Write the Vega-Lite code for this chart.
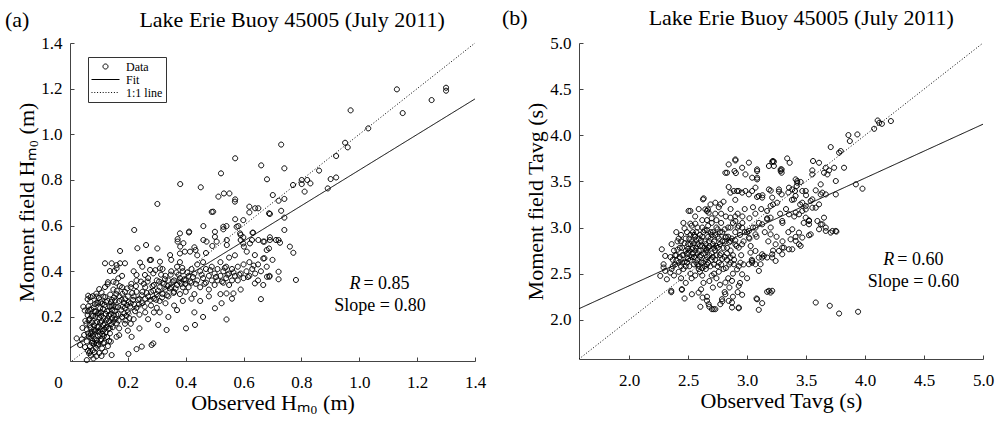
{
"$schema": "https://vega.github.io/schema/vega-lite/v6.json",
"background": "white",
"padding": {"left": 5, "top": 7, "right": 2, "bottom": 2},
"spacing": 16,
"datasets": {
"a": [
{"x":0.062,"y":0.052},{"x":0.058,"y":0.093},{"x":0.063,"y":0.128},{"x":0.057,"y":0.171},{"x":0.061,"y":0.208},{"x":0.064,"y":0.247},
{"x":0.072,"y":0.031},{"x":0.069,"y":0.072},{"x":0.074,"y":0.108},{"x":0.071,"y":0.152},{"x":0.068,"y":0.192},{"x":0.073,"y":0.233},{"x":0.070,"y":0.268},
{"x":0.081,"y":0.018},{"x":0.079,"y":0.054},{"x":0.083,"y":0.083},{"x":0.078,"y":0.118},{"x":0.084,"y":0.163},{"x":0.080,"y":0.204},{"x":0.082,"y":0.241},{"x":0.079,"y":0.291},
{"x":0.091,"y":0.028},{"x":0.089,"y":0.064},{"x":0.093,"y":0.098},{"x":0.088,"y":0.141},{"x":0.094,"y":0.178},{"x":0.090,"y":0.224},{"x":0.092,"y":0.262},
{"x":0.101,"y":0.042},{"x":0.098,"y":0.081},{"x":0.103,"y":0.122},{"x":0.099,"y":0.158},{"x":0.102,"y":0.197},{"x":0.104,"y":0.238},{"x":0.100,"y":0.283},
{"x":0.111,"y":0.062},{"x":0.108,"y":0.103},{"x":0.113,"y":0.138},{"x":0.110,"y":0.182},{"x":0.107,"y":0.221},{"x":0.112,"y":0.258},{"x":0.109,"y":0.307},
{"x":0.121,"y":0.048},{"x":0.118,"y":0.088},{"x":0.123,"y":0.132},{"x":0.120,"y":0.171},{"x":0.124,"y":0.213},{"x":0.119,"y":0.252},{"x":0.122,"y":0.287},
{"x":0.131,"y":0.072},{"x":0.128,"y":0.112},{"x":0.133,"y":0.148},{"x":0.130,"y":0.193},{"x":0.134,"y":0.228},{"x":0.129,"y":0.271},
{"x":0.141,"y":0.092},{"x":0.138,"y":0.128},{"x":0.143,"y":0.168},{"x":0.140,"y":0.212},{"x":0.144,"y":0.248},{"x":0.139,"y":0.298},
{"x":0.052,"y":0.068},{"x":0.049,"y":0.121},{"x":0.053,"y":0.183},{"x":0.051,"y":0.228},{"x":0.043,"y":0.152},{"x":0.041,"y":0.102},
{"x":0.066,"y":0.041},{"x":0.086,"y":0.136},{"x":0.096,"y":0.117},{"x":0.106,"y":0.147},{"x":0.076,"y":0.176},{"x":0.116,"y":0.196},{"x":0.126,"y":0.156},{"x":0.096,"y":0.216},{"x":0.086,"y":0.256},{"x":0.106,"y":0.096},{"x":0.076,"y":0.086},{"x":0.136,"y":0.181},{"x":0.146,"y":0.231},{"x":0.156,"y":0.272},{"x":0.166,"y":0.243},{"x":0.151,"y":0.208},{"x":0.161,"y":0.172},
{"x":0.071,"y":0.287},{"x":0.091,"y":0.302},{"x":0.121,"y":0.331},{"x":0.101,"y":0.322},{"x":0.131,"y":0.352},{"x":0.061,"y":0.278},{"x":0.067,"y":0.232},{"x":0.088,"y":0.202},{"x":0.114,"y":0.235},{"x":0.097,"y":0.262},
{"x":0.065,"y":0.115},{"x":0.075,"y":0.135},{"x":0.085,"y":0.105},{"x":0.095,"y":0.155},{"x":0.105,"y":0.175},{"x":0.115,"y":0.165},{"x":0.125,"y":0.185},{"x":0.135,"y":0.205},{"x":0.145,"y":0.195},{"x":0.155,"y":0.225},{"x":0.085,"y":0.225},{"x":0.075,"y":0.205},{"x":0.065,"y":0.185},{"x":0.105,"y":0.265},{"x":0.125,"y":0.265},{"x":0.145,"y":0.275},{"x":0.095,"y":0.075},{"x":0.115,"y":0.085},{"x":0.135,"y":0.095},{"x":0.085,"y":0.045},{"x":0.117,"y":0.117},{"x":0.137,"y":0.151},{"x":0.157,"y":0.189},{"x":0.167,"y":0.212},{"x":0.177,"y":0.232},{"x":0.187,"y":0.262},{"x":0.197,"y":0.252},{"x":0.171,"y":0.291},{"x":0.181,"y":0.301},{"x":0.191,"y":0.278},
{"x":0.058,"y":0.145},{"x":0.068,"y":0.165},{"x":0.078,"y":0.095},{"x":0.088,"y":0.175},{"x":0.098,"y":0.135},{"x":0.108,"y":0.205},{"x":0.118,"y":0.145},{"x":0.128,"y":0.225},{"x":0.138,"y":0.245},{"x":0.148,"y":0.155},{"x":0.158,"y":0.245},{"x":0.168,"y":0.185},{"x":0.178,"y":0.275},{"x":0.188,"y":0.215},{"x":0.198,"y":0.325},{"x":0.208,"y":0.245},{"x":0.218,"y":0.275},{"x":0.228,"y":0.335},{"x":0.238,"y":0.255},{"x":0.248,"y":0.295},{"x":0.258,"y":0.245},{"x":0.268,"y":0.355},{"x":0.278,"y":0.275},{"x":0.288,"y":0.315},{"x":0.298,"y":0.275},{"x":0.308,"y":0.355},{"x":0.318,"y":0.285},{"x":0.328,"y":0.365},{"x":0.338,"y":0.335},{"x":0.348,"y":0.385},{"x":0.358,"y":0.305},{"x":0.368,"y":0.395},{"x":0.378,"y":0.355},{"x":0.388,"y":0.415},{"x":0.398,"y":0.345},{"x":0.072,"y":0.125},{"x":0.082,"y":0.145},{"x":0.092,"y":0.085},{"x":0.102,"y":0.215},{"x":0.112,"y":0.125},{"x":0.062,"y":0.225},{"x":0.142,"y":0.265},{"x":0.152,"y":0.285},{"x":0.162,"y":0.315},{"x":0.172,"y":0.335},{"x":0.182,"y":0.245},{"x":0.192,"y":0.185},{"x":0.202,"y":0.265},{"x":0.212,"y":0.345},{"x":0.222,"y":0.255},
{"x":0.063,"y":0.293},{"x":0.092,"y":0.289},{"x":0.115,"y":0.289},{"x":0.046,"y":0.245},{"x":0.167,"y":0.369},{"x":0.150,"y":0.354},{"x":0.130,"y":0.343},
{"x":0.121,"y":0.435},{"x":0.144,"y":0.435},{"x":0.161,"y":0.427},{"x":0.173,"y":0.435},{"x":0.19,"y":0.435},{"x":0.138,"y":0.401},{"x":0.153,"y":0.401},{"x":0.161,"y":0.413},
{"x":0.242,"y":0.438},{"x":0.276,"y":0.449},{"x":0.311,"y":0.442},{"x":0.230,"y":0.384},{"x":0.259,"y":0.384},{"x":0.288,"y":0.391},{"x":0.346,"y":0.471},{"x":0.380,"y":0.478},{"x":0.397,"y":0.486},{"x":0.415,"y":0.486},{"x":0.380,"y":0.566},{"x":0.411,"y":0.570},
{"x":0.461,"y":0.598},{"x":0.495,"y":0.661},{"x":0.530,"y":0.595},{"x":0.541,"y":0.598},{"x":0.501,"y":0.573},{"x":0.501,"y":0.551},{"x":0.507,"y":0.530},
{"x":0.570,"y":0.705},{"x":0.620,"y":0.683},{"x":0.620,"y":0.658},{"x":0.651,"y":0.676},{"x":0.688,"y":0.654},{"x":0.599,"y":0.624},{"x":0.576,"y":0.595},{"x":0.588,"y":0.566},{"x":0.631,"y":0.569},{"x":0.599,"y":0.522},{"x":0.622,"y":0.522},
{"x":0.668,"y":0.530},{"x":0.691,"y":0.537},{"x":0.639,"y":0.471},{"x":0.668,"y":0.456},{"x":0.688,"y":0.500},{"x":0.689,"y":0.376},{"x":0.668,"y":0.340},{"x":0.639,"y":0.347},{"x":0.660,"y":0.278},
{"x":0.541,"y":0.303},{"x":0.565,"y":0.303},{"x":0.501,"y":0.238},{"x":0.524,"y":0.260},{"x":0.541,"y":0.189},
{"x":0.432,"y":0.165},{"x":0.401,"y":0.150},{"x":0.305,"y":0.165},{"x":0.334,"y":0.143},{"x":0.282,"y":0.077},{"x":0.288,"y":0.084},{"x":0.248,"y":0.070},{"x":0.230,"y":0.059},{"x":0.202,"y":0.038},{"x":0.213,"y":0.113},{"x":0.161,"y":0.113},{"x":0.144,"y":0.033},{"x":0.109,"y":0.029},{"x":0.069,"y":0.048},{"x":0.058,"y":0.011},{"x":0.035,"y":0.077},{"x":0.023,"y":0.106},
{"x":0.173,"y":0.489},{"x":0.263,"y":0.515},{"x":0.302,"y":0.500},{"x":0.222,"y":0.581},{"x":0.302,"y":0.695},
{"x":1.13,"y":1.197},{"x":1.30,"y":1.204},{"x":1.30,"y":1.191},{"x":1.25,"y":1.15},{"x":1.15,"y":1.093},{"x":0.97,"y":1.105},{"x":1.031,"y":1.026},{"x":0.951,"y":0.963},{"x":0.960,"y":0.943},{"x":0.920,"y":0.905},{"x":0.730,"y":0.955},{"x":0.661,"y":0.864},{"x":0.741,"y":0.851},{"x":0.681,"y":0.803},{"x":0.861,"y":0.841},{"x":0.771,"y":0.778},{"x":0.801,"y":0.800},{"x":0.801,"y":0.782},{"x":0.820,"y":0.800},{"x":0.831,"y":0.785},{"x":0.811,"y":0.749},{"x":0.901,"y":0.804},{"x":0.920,"y":0.811},{"x":0.891,"y":0.763},{"x":0.701,"y":0.734},{"x":0.721,"y":0.709},{"x":0.741,"y":0.717},{"x":0.730,"y":0.665},{"x":0.691,"y":0.651},{"x":0.741,"y":0.635},{"x":0.741,"y":0.581},{"x":0.640,"y":0.676},
{"x":0.571,"y":0.895},{"x":0.522,"y":0.829},{"x":0.381,"y":0.782},{"x":0.452,"y":0.768},{"x":0.513,"y":0.727},{"x":0.532,"y":0.741},{"x":0.551,"y":0.741},{"x":0.571,"y":0.715},{"x":0.490,"y":0.660},{"x":0.571,"y":0.628},{"x":0.530,"y":0.584},{"x":0.582,"y":0.598},{"x":0.590,"y":0.559},{"x":0.599,"y":0.549},{"x":0.590,"y":0.537},{"x":0.633,"y":0.569},
{"x":0.233,"y":0.501},{"x":0.372,"y":0.541},{"x":0.372,"y":0.530},{"x":0.392,"y":0.523},{"x":0.381,"y":0.508},{"x":0.412,"y":0.574},{"x":0.430,"y":0.505},{"x":0.434,"y":0.493},{"x":0.461,"y":0.537},{"x":0.472,"y":0.530},{"x":0.492,"y":0.511},{"x":0.542,"y":0.537},{"x":0.542,"y":0.515},{"x":0.629,"y":0.537},{"x":0.651,"y":0.537},{"x":0.672,"y":0.530},{"x":0.691,"y":0.549},{"x":0.712,"y":0.537},{"x":0.721,"y":0.537},{"x":0.726,"y":0.525},{"x":0.760,"y":0.508},{"x":0.772,"y":0.481},{"x":0.781,"y":0.362},{"x":0.721,"y":0.398},{"x":0.721,"y":0.365},{"x":0.681,"y":0.376},{"x":0.672,"y":0.457},{"x":0.680,"y":0.493},{"x":0.611,"y":0.486},{"x":0.601,"y":0.508},{"x":0.277,"y":0.406},{"x":0.311,"y":0.413},
{"x":0.15,"y":0.18},{"x":0.15,"y":0.25},{"x":0.16,"y":0.21},{"x":0.16,"y":0.30},{"x":0.17,"y":0.15},{"x":0.17,"y":0.27},{"x":0.18,"y":0.20},{"x":0.18,"y":0.33},{"x":0.19,"y":0.24},{"x":0.19,"y":0.17},{"x":0.20,"y":0.29},{"x":0.20,"y":0.22},{"x":0.16,"y":0.35},{"x":0.18,"y":0.38},{"x":0.15,"y":0.32},{"x":0.19,"y":0.31},{"x":0.17,"y":0.12},{"x":0.20,"y":0.14},
{"x":0.21,"y":0.26},{"x":0.21,"y":0.33},{"x":0.22,"y":0.19},{"x":0.22,"y":0.29},{"x":0.23,"y":0.24},{"x":0.23,"y":0.36},{"x":0.24,"y":0.28},{"x":0.24,"y":0.21},{"x":0.25,"y":0.31},{"x":0.25,"y":0.26},{"x":0.26,"y":0.33},{"x":0.26,"y":0.22},{"x":0.27,"y":0.29},{"x":0.27,"y":0.37},{"x":0.28,"y":0.25},{"x":0.28,"y":0.31},{"x":0.29,"y":0.34},{"x":0.29,"y":0.28},{"x":0.30,"y":0.30},{"x":0.30,"y":0.24},{"x":0.22,"y":0.40},{"x":0.25,"y":0.42},{"x":0.28,"y":0.45},{"x":0.21,"y":0.17},{"x":0.24,"y":0.15},{"x":0.27,"y":0.19},{"x":0.23,"y":0.31},{"x":0.26,"y":0.28},{"x":0.29,"y":0.22},{"x":0.30,"y":0.36},
{"x":0.31,"y":0.33},{"x":0.31,"y":0.27},{"x":0.32,"y":0.35},{"x":0.32,"y":0.30},{"x":0.33,"y":0.38},{"x":0.33,"y":0.32},{"x":0.34,"y":0.29},{"x":0.34,"y":0.36},{"x":0.35,"y":0.33},{"x":0.35,"y":0.40},{"x":0.36,"y":0.31},{"x":0.36,"y":0.36},{"x":0.37,"y":0.34},{"x":0.37,"y":0.42},{"x":0.38,"y":0.30},{"x":0.38,"y":0.37},{"x":0.39,"y":0.33},{"x":0.39,"y":0.40},{"x":0.40,"y":0.36},{"x":0.40,"y":0.31},{"x":0.33,"y":0.26},{"x":0.36,"y":0.25},{"x":0.39,"y":0.27},{"x":0.32,"y":0.41},{"x":0.35,"y":0.45},{"x":0.38,"y":0.44},{"x":0.31,"y":0.22},{"x":0.34,"y":0.20},{"x":0.37,"y":0.23},{"x":0.345,"y":0.325},
{"x":0.41,"y":0.38},{"x":0.41,"y":0.33},{"x":0.42,"y":0.41},{"x":0.42,"y":0.35},{"x":0.43,"y":0.30},{"x":0.43,"y":0.39},{"x":0.44,"y":0.36},{"x":0.44,"y":0.43},{"x":0.45,"y":0.33},{"x":0.45,"y":0.40},{"x":0.46,"y":0.37},{"x":0.46,"y":0.44},{"x":0.47,"y":0.35},{"x":0.47,"y":0.41},{"x":0.48,"y":0.38},{"x":0.48,"y":0.32},{"x":0.49,"y":0.42},{"x":0.49,"y":0.36},{"x":0.50,"y":0.39},{"x":0.50,"y":0.34},{"x":0.42,"y":0.28},{"x":0.45,"y":0.27},{"x":0.48,"y":0.29},{"x":0.44,"y":0.47},{"x":0.47,"y":0.48},{"x":0.43,"y":0.22},{"x":0.46,"y":0.20},
{"x":0.51,"y":0.41},{"x":0.51,"y":0.36},{"x":0.52,"y":0.38},{"x":0.52,"y":0.44},{"x":0.53,"y":0.35},{"x":0.53,"y":0.40},{"x":0.54,"y":0.37},{"x":0.54,"y":0.42},{"x":0.55,"y":0.39},{"x":0.55,"y":0.34},{"x":0.56,"y":0.36},{"x":0.56,"y":0.41},{"x":0.57,"y":0.38},{"x":0.58,"y":0.36},{"x":0.58,"y":0.42},{"x":0.59,"y":0.39},{"x":0.60,"y":0.37},{"x":0.55,"y":0.46},{"x":0.57,"y":0.47},{"x":0.52,"y":0.30},{"x":0.56,"y":0.28},{"x":0.59,"y":0.32},{"x":0.60,"y":0.43},
{"x":0.61,"y":0.40},{"x":0.62,"y":0.38},{"x":0.63,"y":0.41},{"x":0.64,"y":0.39},{"x":0.62,"y":0.44},{"x":0.65,"y":0.43},{"x":0.66,"y":0.40},{"x":0.68,"y":0.42},{"x":0.70,"y":0.45},{"x":0.65,"y":0.36},{"x":0.69,"y":0.38},
{"x":0.215,"y":0.305},{"x":0.235,"y":0.275},{"x":0.255,"y":0.345},{"x":0.265,"y":0.305},{"x":0.285,"y":0.335},{"x":0.305,"y":0.315},{"x":0.325,"y":0.345},{"x":0.335,"y":0.295},{"x":0.355,"y":0.355},{"x":0.365,"y":0.325},{"x":0.375,"y":0.385},{"x":0.385,"y":0.345},{"x":0.395,"y":0.365},{"x":0.405,"y":0.395},{"x":0.415,"y":0.355},{"x":0.425,"y":0.375},{"x":0.435,"y":0.345},{"x":0.455,"y":0.385},{"x":0.465,"y":0.345},{"x":0.485,"y":0.405},{"x":0.505,"y":0.375},{"x":0.525,"y":0.355},{"x":0.535,"y":0.415},{"x":0.545,"y":0.385},{"x":0.565,"y":0.395},{"x":0.585,"y":0.385},{"x":0.615,"y":0.375},{"x":0.635,"y":0.425},{"x":0.315,"y":0.385},{"x":0.295,"y":0.405},{"x":0.245,"y":0.355},{"x":0.225,"y":0.225},{"x":0.205,"y":0.195},{"x":0.195,"y":0.205}
],
"b": [
{"x":4.107,"y":4.160},{"x":4.12,"y":4.135},{"x":4.143,"y":4.124},{"x":4.219,"y":4.154},{"x":4.077,"y":4.070},{"x":3.859,"y":4.002},{"x":3.935,"y":4.009},{"x":3.871,"y":3.937},{"x":3.709,"y":3.872},{"x":3.780,"y":3.811},{"x":3.794,"y":3.829},{"x":3.340,"y":3.749},{"x":3.361,"y":3.702},{"x":3.213,"y":3.713},{"x":3.227,"y":3.667},{"x":3.293,"y":3.630},{"x":3.293,"y":3.594},{"x":3.559,"y":3.721},{"x":3.610,"y":3.702},{"x":3.553,"y":3.619},{"x":3.553,"y":3.576},{"x":3.667,"y":3.648},{"x":3.695,"y":3.619},{"x":3.681,"y":3.576},{"x":3.738,"y":3.648},{"x":3.822,"y":3.648},{"x":3.652,"y":3.594},{"x":3.752,"y":3.504},{"x":3.922,"y":3.468},{"x":3.978,"y":3.421},{"x":3.425,"y":3.504},{"x":3.454,"y":3.494},{"x":3.383,"y":3.413},{"x":3.406,"y":3.396},{"x":3.497,"y":3.396},{"x":3.582,"y":3.403},{"x":3.624,"y":3.359},{"x":3.638,"y":3.378},{"x":3.270,"y":3.389},{"x":3.293,"y":3.359},{"x":3.213,"y":3.324},{"x":3.255,"y":3.269},{"x":3.199,"y":3.234},{"x":3.170,"y":3.180},{"x":3.397,"y":3.305},{"x":3.411,"y":3.342},
{"x":3.468,"y":3.269},{"x":3.497,"y":3.234},{"x":3.539,"y":3.288},{"x":3.553,"y":3.215},{"x":3.468,"y":3.180},{"x":3.440,"y":3.143},{"x":3.497,"y":3.107},{"x":3.525,"y":3.078},{"x":3.596,"y":3.071},{"x":3.624,"y":3.035},{"x":3.610,"y":2.981},{"x":3.667,"y":2.963},{"x":3.723,"y":2.963},{"x":3.757,"y":2.956},{"x":3.539,"y":2.926},{"x":3.525,"y":2.916},{"x":3.468,"y":2.891},{"x":3.411,"y":2.898},{"x":3.369,"y":2.872},{"x":3.440,"y":2.818},{"x":3.454,"y":2.801},{"x":3.383,"y":2.764},{"x":3.312,"y":2.782},{"x":3.270,"y":2.747},{"x":3.298,"y":2.710},{"x":3.213,"y":2.675},{"x":3.170,"y":2.675},{"x":3.128,"y":2.710},{"x":3.114,"y":2.602},{"x":3.185,"y":2.314},{"x":3.213,"y":2.314},
{"x":3.582,"y":2.187},{"x":3.701,"y":2.152},{"x":3.780,"y":2.068},{"x":3.941,"y":2.087},{"x":3.080,"y":2.231},{"x":3.128,"y":2.180},{"x":3.099,"y":2.108},{"x":3.170,"y":2.303},{"x":3.199,"y":2.295},
{"x":2.357,"y":2.299},{"x":2.470,"y":2.231},{"x":2.447,"y":2.325},{"x":2.532,"y":2.277},{"x":2.589,"y":2.295},{"x":2.604,"y":2.141},{"x":2.623,"y":2.241},{"x":2.660,"y":2.206},{"x":2.680,"y":2.141},{"x":2.702,"y":2.115},{"x":2.731,"y":2.115},{"x":2.773,"y":2.169},{"x":2.787,"y":2.223},{"x":2.816,"y":2.277},{"x":2.872,"y":2.187},{"x":2.929,"y":2.125},{"x":2.958,"y":2.271},
{"x":2.901,"y":3.738},{"x":2.844,"y":3.684},{"x":2.816,"y":3.593},{"x":2.893,"y":3.612},{"x":2.958,"y":3.648},{"x":3.015,"y":3.703},{"x":3.185,"y":3.667},{"x":3.219,"y":3.721},{"x":3.285,"y":3.630},{"x":3.285,"y":3.612},{"x":3.085,"y":3.630},{"x":3.085,"y":3.522},{"x":2.986,"y":3.576},{"x":3.085,"y":3.540},
{"x":2.626,"y":3.305},{"x":2.519,"y":3.180},{"x":2.668,"y":3.197},{"x":2.731,"y":3.269},{"x":2.773,"y":3.251},
{"x":2.844,"y":3.439},{"x":2.859,"y":3.378},{"x":2.915,"y":3.396},{"x":2.958,"y":3.378},{"x":3.015,"y":3.359},{"x":3.043,"y":3.396},{"x":3.085,"y":3.331},{"x":3.128,"y":3.324},
{"x":3.185,"y":3.413},{"x":3.270,"y":3.413},{"x":3.355,"y":3.432},{"x":3.412,"y":3.522},{"x":3.425,"y":3.486},{"x":3.468,"y":3.396},{"x":3.355,"y":3.143},{"x":3.412,"y":3.161},{"x":3.497,"y":3.197},{"x":3.582,"y":3.215},{"x":3.610,"y":3.251},{"x":3.553,"y":3.305},{"x":3.624,"y":3.468},{"x":3.667,"y":3.359},{"x":3.752,"y":3.359},{"x":3.652,"y":3.107},{"x":3.638,"y":3.035},{"x":3.752,"y":2.963},{"x":3.709,"y":2.945},{"x":3.667,"y":2.999},{"x":3.525,"y":3.035},{"x":3.440,"y":2.945},{"x":3.383,"y":2.981},{"x":3.298,"y":3.071},{"x":3.199,"y":3.107},{"x":3.199,"y":2.926},{"x":3.242,"y":2.818},{"x":3.298,"y":2.782},{"x":3.355,"y":2.764},{"x":3.412,"y":2.855},{"x":3.525,"y":3.071},
{"x":2.859,"y":3.107},{"x":2.901,"y":3.071},{"x":2.929,"y":3.017},{"x":2.958,"y":2.999},{"x":3.015,"y":2.963},{"x":3.071,"y":2.999},{"x":3.128,"y":3.035},{"x":3.170,"y":3.089},{"x":3.071,"y":2.926},{"x":3.015,"y":2.891},{"x":2.958,"y":2.818},{"x":2.901,"y":2.818},{"x":3.029,"y":2.728},{"x":3.071,"y":2.746},{"x":3.142,"y":2.692},{"x":3.043,"y":2.619},{"x":2.929,"y":2.782},{"x":2.859,"y":2.855},{"x":2.816,"y":2.891},{"x":2.859,"y":2.675},{"x":2.944,"y":2.619},{"x":2.915,"y":2.547},{"x":2.958,"y":2.493},{"x":3.015,"y":2.602},{"x":3.100,"y":2.530},{"x":2.887,"y":2.602},
{"x":2.504,"y":2.728},{"x":2.532,"y":2.764},{"x":2.589,"y":2.584},{"x":2.277,"y":2.764},{"x":2.306,"y":2.692},{"x":2.292,"y":2.566},{"x":2.264,"y":2.476},{"x":2.320,"y":2.439},
{"x":2.830,"y":3.594},{"x":2.905,"y":3.590},{"x":2.901,"y":3.727},{"x":3.043,"y":3.540},{"x":3.085,"y":3.612},{"x":3.227,"y":3.713},
{"x":2.504,"y":3.180},{"x":2.632,"y":3.316},{"x":2.646,"y":3.197},{"x":2.674,"y":3.161},{"x":2.519,"y":3.042},{"x":2.561,"y":3.042},{"x":2.887,"y":3.396},{"x":2.929,"y":3.396},{"x":2.986,"y":3.396},{"x":3.071,"y":3.432},{"x":3.099,"y":3.342},
{"x":2.292,"y":2.602},{"x":2.306,"y":2.530},{"x":2.349,"y":2.512},{"x":2.357,"y":2.314},{"x":2.447,"y":2.332},{"x":2.674,"y":2.169},{"x":2.717,"y":2.115},{"x":2.844,"y":2.205},{"x":2.872,"y":2.133},{"x":2.929,"y":2.133},{"x":2.929,"y":2.368},{"x":2.872,"y":2.422},{"x":2.816,"y":2.404},{"x":3.085,"y":2.223},{"x":3.043,"y":2.638},{"x":3.071,"y":2.602},{"x":3.099,"y":2.674},{"x":3.128,"y":2.674},{"x":3.213,"y":2.710},{"x":3.242,"y":2.638},
{"x":2.36,"y":2.55},{"x":2.37,"y":2.65},{"x":2.38,"y":2.75},{"x":2.36,"y":2.82},{"x":2.39,"y":2.60},{"x":2.40,"y":2.70},{"x":2.41,"y":2.85},{"x":2.42,"y":2.52},{"x":2.43,"y":2.78},{"x":2.44,"y":2.92},{"x":2.40,"y":2.95},{"x":2.45,"y":2.62},{"x":2.44,"y":2.45},{"x":2.38,"y":2.48},
{"x":2.46,"y":2.70},{"x":2.47,"y":2.83},{"x":2.48,"y":2.58},{"x":2.49,"y":2.95},{"x":2.50,"y":2.66},{"x":2.50,"y":2.77},{"x":2.51,"y":2.88},{"x":2.52,"y":2.50},{"x":2.53,"y":3.02},{"x":2.54,"y":2.72},{"x":2.55,"y":2.60},{"x":2.46,"y":3.05},{"x":2.48,"y":2.40},{"x":2.52,"y":2.82},{"x":2.55,"y":2.92},{"x":2.47,"y":2.99},{"x":2.53,"y":2.45},
{"x":2.56,"y":2.75},{"x":2.57,"y":2.86},{"x":2.58,"y":2.65},{"x":2.58,"y":3.00},{"x":2.59,"y":2.55},{"x":2.60,"y":2.80},{"x":2.60,"y":2.92},{"x":2.61,"y":2.70},{"x":2.62,"y":3.08},{"x":2.62,"y":2.48},{"x":2.63,"y":2.62},{"x":2.64,"y":2.85},{"x":2.64,"y":2.97},{"x":2.65,"y":2.75},{"x":2.56,"y":3.12},{"x":2.59,"y":3.20},{"x":2.63,"y":2.40},{"x":2.65,"y":2.55},{"x":2.61,"y":2.33},{"x":2.57,"y":2.95},
{"x":2.66,"y":2.68},{"x":2.67,"y":2.90},{"x":2.67,"y":3.02},{"x":2.68,"y":2.80},{"x":2.69,"y":2.58},{"x":2.70,"y":2.72},{"x":2.70,"y":3.10},{"x":2.71,"y":2.95},{"x":2.72,"y":2.50},{"x":2.72,"y":2.85},{"x":2.73,"y":2.65},{"x":2.74,"y":3.00},{"x":2.75,"y":2.78},{"x":2.66,"y":3.18},{"x":2.69,"y":3.25},{"x":2.73,"y":3.15},{"x":2.68,"y":2.42},{"x":2.71,"y":2.35},{"x":2.74,"y":2.45},{"x":2.75,"y":2.90},{"x":2.66,"y":2.25},
{"x":2.76,"y":2.62},{"x":2.77,"y":2.95},{"x":2.78,"y":2.72},{"x":2.78,"y":3.05},{"x":2.79,"y":2.85},{"x":2.80,"y":2.55},{"x":2.81,"y":2.68},{"x":2.82,"y":3.12},{"x":2.82,"y":2.90},{"x":2.83,"y":2.78},{"x":2.84,"y":2.45},{"x":2.85,"y":2.60},{"x":2.76,"y":3.22},{"x":2.80,"y":3.28},{"x":2.84,"y":3.00},{"x":2.77,"y":2.38},{"x":2.81,"y":2.30},{"x":2.85,"y":2.35},{"x":2.79,"y":2.20},
{"x":2.86,"y":2.75},{"x":2.87,"y":2.88},{"x":2.88,"y":2.50},{"x":2.88,"y":3.05},{"x":2.89,"y":2.65},{"x":2.90,"y":2.95},{"x":2.91,"y":2.80},{"x":2.92,"y":3.15},{"x":2.93,"y":2.58},{"x":2.94,"y":2.40},{"x":2.86,"y":3.20},{"x":2.90,"y":3.30},{"x":2.95,"y":2.70},{"x":2.92,"y":2.30},{"x":2.88,"y":2.25},
{"x":2.96,"y":3.05},{"x":2.97,"y":2.85},{"x":2.98,"y":3.20},{"x":3.00,"y":2.95},{"x":3.02,"y":3.10},{"x":3.03,"y":2.80},{"x":3.05,"y":3.00},{"x":3.07,"y":3.15},{"x":3.08,"y":2.90},{"x":3.10,"y":3.05},{"x":2.97,"y":2.60},{"x":3.00,"y":2.45},{"x":3.04,"y":2.65},
{"x":3.12,"y":3.20},{"x":3.15,"y":2.95},{"x":3.17,"y":3.10},{"x":3.20,"y":3.00},{"x":3.22,"y":3.25},{"x":3.25,"y":2.90},{"x":3.28,"y":3.15},{"x":3.30,"y":3.05},{"x":3.33,"y":3.20},{"x":3.35,"y":2.95},{"x":3.38,"y":3.30},{"x":3.40,"y":3.12},{"x":3.45,"y":3.25},{"x":3.48,"y":3.05},{"x":3.50,"y":3.35},{"x":3.18,"y":2.85},{"x":3.22,"y":2.75},{"x":3.30,"y":2.85},{"x":3.13,"y":3.35},{"x":3.20,"y":3.40},{"x":3.35,"y":3.38},{"x":3.42,"y":3.45},
{"x":2.43,"y":2.68},{"x":2.45,"y":2.78},{"x":2.47,"y":2.63},{"x":2.49,"y":2.72},{"x":2.51,"y":2.58},{"x":2.53,"y":2.85},{"x":2.55,"y":2.68},{"x":2.57,"y":2.78},{"x":2.59,"y":2.88},{"x":2.61,"y":2.62},{"x":2.63,"y":2.72},{"x":2.65,"y":2.82},{"x":2.67,"y":2.62},{"x":2.69,"y":2.88},{"x":2.71,"y":2.68},{"x":2.73,"y":2.92},{"x":2.75,"y":2.58},{"x":2.77,"y":2.82},{"x":2.79,"y":2.66},{"x":2.81,"y":2.98},{"x":2.83,"y":2.72},{"x":2.85,"y":2.84},{"x":2.62,"y":2.90},{"x":2.58,"y":2.72},{"x":2.54,"y":2.95},{"x":2.50,"y":2.82},{"x":2.46,"y":2.55},{"x":2.42,"y":2.62},{"x":2.39,"y":2.70},{"x":2.41,"y":2.76},{"x":2.66,"y":2.97},{"x":2.70,"y":3.05},{"x":2.74,"y":3.08},{"x":2.78,"y":3.15},{"x":2.72,"y":2.78},{"x":2.68,"y":2.70},{"x":2.64,"y":2.58},{"x":2.60,"y":2.52},{"x":2.56,"y":2.48},{"x":2.70,"y":2.48},{"x":2.76,"y":2.52},{"x":2.82,"y":2.56},{"x":2.86,"y":2.62},{"x":2.88,"y":2.70},{"x":2.84,"y":2.90},{"x":2.80,"y":2.78},{"x":2.52,"y":2.65},{"x":2.48,"y":2.88},{"x":2.44,"y":2.85},{"x":2.37,"y":2.58},{"x":2.35,"y":2.68},{"x":2.62,"y":2.80},{"x":2.66,"y":2.76},{"x":2.58,"y":2.60},{"x":2.74,"y":2.70},{"x":2.90,"y":2.86},{"x":2.94,"y":2.92},{"x":2.98,"y":2.95},{"x":3.02,"y":2.88},{"x":2.92,"y":3.00},{"x":2.96,"y":3.12},{"x":3.05,"y":3.22},{"x":2.90,"y":3.12},{"x":2.86,"y":3.00},
{"x":2.45,"y":2.70},{"x":2.49,"y":2.62},{"x":2.51,"y":2.75},{"x":2.53,"y":2.68},{"x":2.55,"y":2.83},{"x":2.57,"y":2.62},{"x":2.59,"y":2.75},{"x":2.61,"y":2.86},{"x":2.63,"y":2.95},{"x":2.65,"y":2.65},{"x":2.67,"y":2.78},{"x":2.69,"y":2.95},{"x":2.71,"y":2.82},{"x":2.73,"y":2.75},{"x":2.75,"y":2.98},{"x":2.77,"y":2.70},{"x":2.79,"y":2.95},{"x":2.81,"y":2.85},{"x":2.83,"y":2.65},{"x":2.60,"y":2.68},{"x":2.64,"y":2.78},{"x":2.68,"y":2.85},{"x":2.72,"y":2.60},{"x":2.76,"y":2.88},{"x":2.56,"y":2.90},{"x":2.52,"y":2.92},{"x":2.48,"y":2.75},{"x":2.44,"y":2.58},{"x":2.40,"y":2.64},{"x":2.42,"y":2.88},{"x":2.62,"y":3.00},{"x":2.66,"y":3.08},{"x":2.70,"y":2.92},{"x":2.74,"y":2.80},{"x":2.78,"y":2.60},{"x":2.58,"y":2.82},{"x":2.54,"y":2.78},{"x":2.66,"y":2.60},{"x":2.70,"y":2.65},{"x":2.62,"y":2.56}
]
},
"config": {
  "font": "Liberation Serif",
  "view": {"stroke": null},
  "axis": {"labelFont": "Liberation Serif", "titleFont": "Liberation Serif", "labelFontSize": 17, "titleFontSize": 22, "titleFontWeight": "normal", "labelColor": "black", "titleColor": "black", "domainColor": "#444", "tickColor": "#444", "tickSize": -4, "grid": false, "labelPadding": 12, "labelFlush": false},
  "axisY": {"titlePadding": 2},
  "axisX": {"titlePadding": 2, "labelPadding": 17},
  "title": {"font": "Liberation Serif", "fontSize": 22, "fontWeight": "normal", "color": "black", "anchor": "start", "frame": "group"},
  "legend": {"orient": "none", "title": null, "strokeColor": "#333", "fillColor": "white", "padding": 3, "labelFont": "Liberation Serif", "labelFontSize": 12, "labelColor": "black", "clipHeight": 13, "rowPadding": 0, "labelOffset": 6, "symbolSize": 784, "symbolStrokeColor": "black", "symbolFillColor": "transparent", "symbolStrokeWidth": 1}
},
"hconcat": [
{
  "width": 405, "height": 318,
  "title": {"text": "(a)\u00a0\u00a0\u00a0\u00a0\u00a0\u00a0\u00a0\u00a0\u00a0\u00a0\u00a0\u00a0\u00a0\u00a0\u00a0\u00a0\u00a0\u00a0\u00a0\u00a0Lake Erie Buoy 45005 (July 2011)", "dx": -65, "offset": 2},
  "layer": [
    {"data": {"name": "a"},
     "mark": {"type": "point", "filled": false, "stroke": "black", "strokeWidth": 1, "size": 784, "opacity": 1},
     "encoding": {
       "x": {"field": "x", "type": "quantitative", "scale": {"domain": [0, 1.4], "nice": false, "zero": false},
             "axis": {"title": "Observed H\u2098\u2080 (m)", "values": [0, 0.2, 0.4, 0.6, 0.8, 1.0, 1.2, 1.4], "labelExpr": "datum.value === 0 ? '0' : format(datum.value, '.1f')", "labelOffset": {"condition": {"test": "datum.value === 0", "value": -12}, "value": 0}}},
       "y": {"field": "y", "type": "quantitative", "scale": {"domain": [0.007, 1.4], "nice": false, "zero": false},
             "axis": {"title": "Moment field H\u2098\u2080 (m)", "values": [0.2, 0.4, 0.6, 0.8, 1.0, 1.2, 1.4], "format": ".1f"}},
       "shape": {"datum": "Data", "scale": {"domain": ["Data", "Fit", "1:1 line"], "range": ["M0.18,0A0.18,0.18 0 1,1 -0.18,0A0.18,0.18 0 1,1 0.18,0Z", "M-1,0L1,0", "M-1,0L-0.93,0M-0.8,0L-0.73,0M-0.6,0L-0.53,0M-0.4,0L-0.33,0M-0.2,0L-0.13,0M0,0L0.07,0M0.2,0L0.27,0M0.4,0L0.47,0M0.6,0L0.67,0M0.8,0L0.87,0"]},
                 "legend": {"legendX": 18, "legendY": 14}}
     }},
    {"data": {"values": [{"x": 0, "y": 0.064, "s": "Fit"}, {"x": 1.4, "y": 1.155, "s": "Fit"}, {"x": 0.007, "y": 0.007, "s": "1:1 line"}, {"x": 1.4, "y": 1.4, "s": "1:1 line"}]},
     "mark": {"type": "line", "color": "black", "strokeWidth": 1},
     "encoding": {"x": {"field": "x", "type": "quantitative"}, "y": {"field": "y", "type": "quantitative"},
       "strokeDash": {"field": "s", "type": "nominal", "scale": {"domain": ["Fit", "1:1 line"], "range": [[1, 0], [1, 2]]}, "legend": null}}},
    {"data": {"values": [{"x": 1.004, "y": 0.322, "t": "R"}]},
     "mark": {"type": "text", "align": "right", "baseline": "alphabetic", "fontSize": 18, "fontStyle": "italic", "font": "Liberation Serif", "color": "black"},
     "encoding": {"x": {"field": "x", "type": "quantitative"}, "y": {"field": "y", "type": "quantitative"}, "text": {"field": "t"}}},
    {"data": {"values": [{"x": 1.004, "y": 0.322, "t": "= 0.85"}]},
     "mark": {"type": "text", "align": "left", "dx": 3, "baseline": "alphabetic", "fontSize": 18, "font": "Liberation Serif", "color": "black"},
     "encoding": {"x": {"field": "x", "type": "quantitative"}, "y": {"field": "y", "type": "quantitative"}, "text": {"field": "t"}}},
    {"data": {"values": [{"x": 1.0715, "y": 0.228, "t": "Slope = 0.80"}]},
     "mark": {"type": "text", "align": "center", "baseline": "alphabetic", "fontSize": 18, "font": "Liberation Serif", "color": "black"},
     "encoding": {"x": {"field": "x", "type": "quantitative"}, "y": {"field": "y", "type": "quantitative"}, "text": {"field": "t"}}}
  ]
},
{
  "width": 404, "height": 316,
  "title": {"text": "(b)\u00a0\u00a0\u00a0\u00a0\u00a0\u00a0\u00a0\u00a0\u00a0\u00a0\u00a0\u00a0\u00a0\u00a0\u00a0\u00a0\u00a0\u00a0\u00a0\u00a0\u00a0\u00a0Lake Erie Buoy 45005 (July 2011)", "dx": -77, "offset": 4},
  "layer": [
    {"data": {"name": "b"},
     "mark": {"type": "point", "filled": false, "stroke": "black", "strokeWidth": 1, "size": 784, "opacity": 1},
     "encoding": {
       "x": {"field": "x", "type": "quantitative", "scale": {"domain": [1.575, 5.0], "nice": false, "zero": false},
             "axis": {"title": "Observed Tavg (s)", "values": [2.0, 2.5, 3.0, 3.5, 4.0, 4.5, 5.0], "format": ".1f"}},
       "y": {"field": "y", "type": "quantitative", "scale": {"domain": [1.575, 5.0], "nice": false, "zero": false},
             "axis": {"title": "Moment field Tavg (s)", "values": [2.0, 2.5, 3.0, 3.5, 4.0, 4.5, 5.0], "format": ".1f"}},
       "shape": {"datum": "Data", "scale": {"domain": ["Data", "Fit", "1:1 line"], "range": ["M0.18,0A0.18,0.18 0 1,1 -0.18,0A0.18,0.18 0 1,1 0.18,0Z", "M-1,0L1,0", "M-1,0L-0.93,0M-0.8,0L-0.73,0M-0.6,0L-0.53,0M-0.4,0L-0.33,0M-0.2,0L-0.13,0M0,0L0.07,0M0.2,0L0.27,0M0.4,0L0.47,0M0.6,0L0.67,0M0.8,0L0.87,0"]},
                 "legend": {"legendX": 16, "legendY": 20}}
     }},
    {"data": {"values": [{"x": 1.575, "y": 2.12, "s": "Fit"}, {"x": 5.0, "y": 4.12, "s": "Fit"}, {"x": 1.575, "y": 1.575, "s": "1:1 line"}, {"x": 5.0, "y": 5.0, "s": "1:1 line"}]},
     "mark": {"type": "line", "color": "black", "strokeWidth": 1},
     "encoding": {"x": {"field": "x", "type": "quantitative"}, "y": {"field": "y", "type": "quantitative"},
       "strokeDash": {"field": "s", "type": "nominal", "scale": {"domain": ["Fit", "1:1 line"], "range": [[1, 0], [1, 2]]}, "legend": null}}},
    {"data": {"values": [{"x": 4.2475, "y": 2.598, "t": "R"}]},
     "mark": {"type": "text", "align": "right", "baseline": "alphabetic", "fontSize": 18, "fontStyle": "italic", "font": "Liberation Serif", "color": "black"},
     "encoding": {"x": {"field": "x", "type": "quantitative"}, "y": {"field": "y", "type": "quantitative"}, "text": {"field": "t"}}},
    {"data": {"values": [{"x": 4.2475, "y": 2.598, "t": "= 0.60"}]},
     "mark": {"type": "text", "align": "left", "dx": 3, "baseline": "alphabetic", "fontSize": 18, "font": "Liberation Serif", "color": "black"},
     "encoding": {"x": {"field": "x", "type": "quantitative"}, "y": {"field": "y", "type": "quantitative"}, "text": {"field": "t"}}},
    {"data": {"values": [{"x": 4.411, "y": 2.354, "t": "Slope = 0.60"}]},
     "mark": {"type": "text", "align": "center", "baseline": "alphabetic", "fontSize": 18, "font": "Liberation Serif", "color": "black"},
     "encoding": {"x": {"field": "x", "type": "quantitative"}, "y": {"field": "y", "type": "quantitative"}, "text": {"field": "t"}}}
  ]
}
]
}
